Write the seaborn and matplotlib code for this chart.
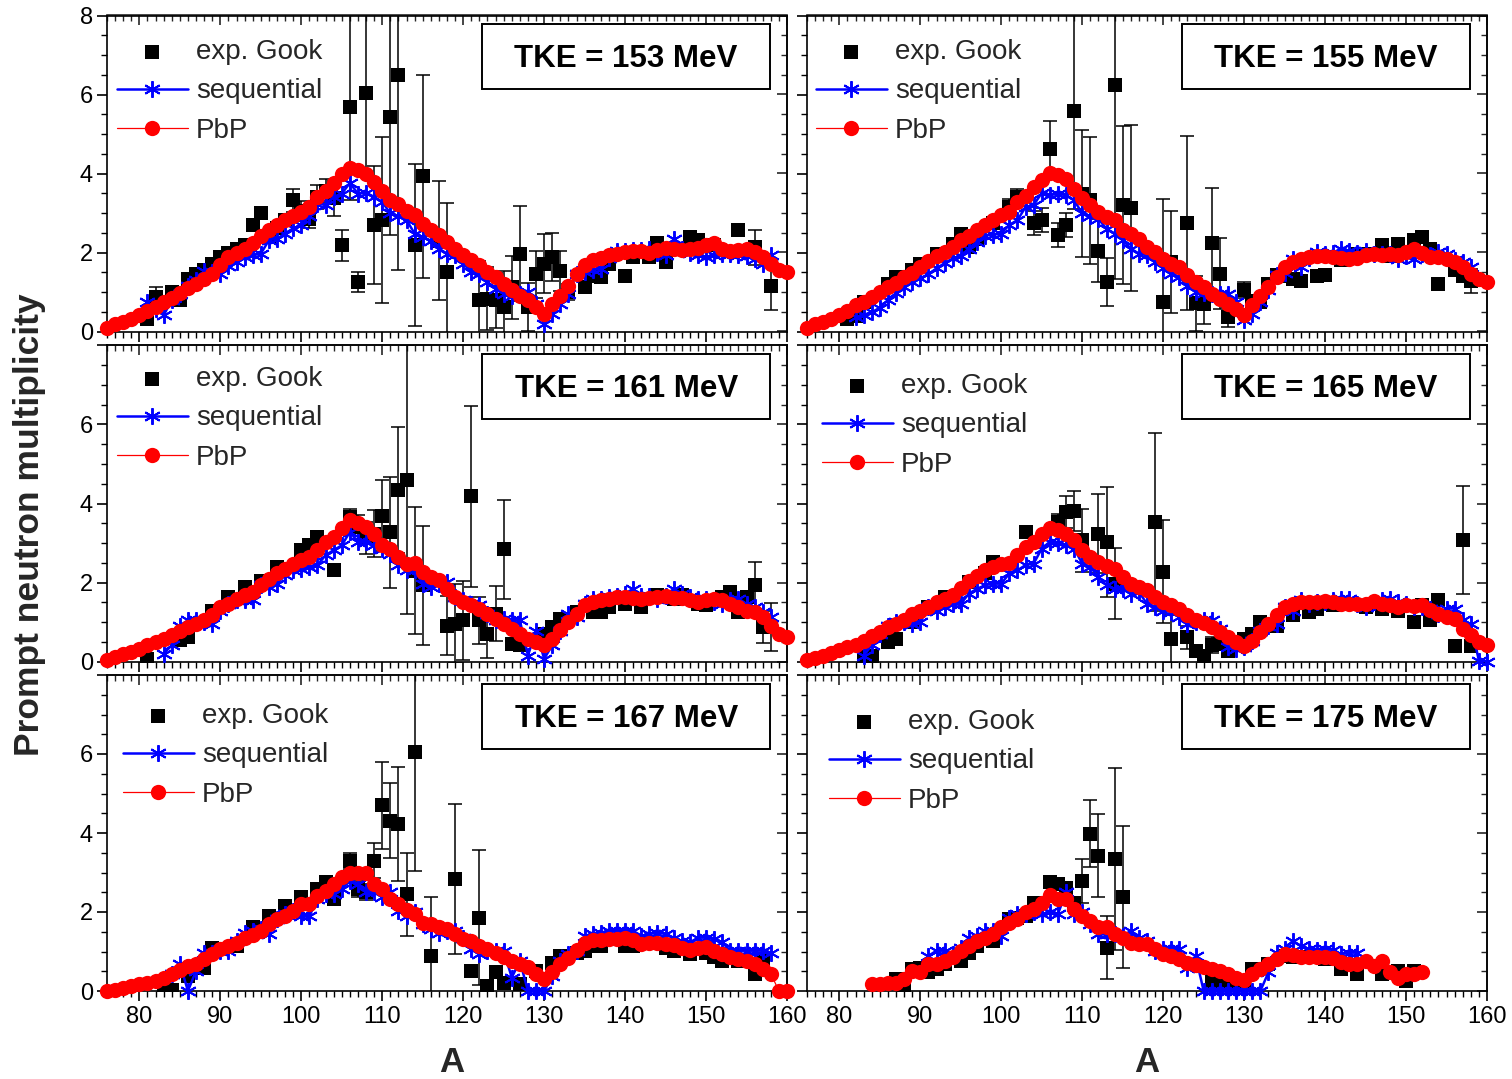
import matplotlib
matplotlib.use("Agg")
import matplotlib.pyplot as plt
import seaborn as sns
from matplotlib.patches import Rectangle
from matplotlib.ticker import MultipleLocator, NullFormatter, FuncFormatter

# ---------------- data: prompt neutron multiplicity vs fragment mass A ----------------
A_FULL = list(range(76, 161))

# TKE = 153 MeV
pbp_153_a = A_FULL
pbp_153_y = [0.09, 0.18, 0.25, 0.32, 0.41, 0.52, 0.62, 0.74, 0.85, 0.97,
             1.10, 1.21, 1.34, 1.46, 1.69, 1.89, 2.00, 2.10, 2.24, 2.41,
             2.56, 2.69, 2.82, 2.92, 3.03, 3.14, 3.41, 3.56, 3.76, 3.98,
             4.13, 4.09, 4.00, 3.79, 3.56, 3.34, 3.24, 3.05, 2.94, 2.72,
             2.58, 2.44, 2.27, 2.10, 1.93, 1.80, 1.68, 1.51, 1.38, 1.21,
             1.06, 0.91, 0.79, 0.62, 0.45, 0.69, 0.91, 1.15, 1.45, 1.68,
             1.80, 1.87, 1.93, 1.97, 2.01, 2.04, 2.04, 1.99, 2.06, 2.12,
             2.10, 2.06, 2.10, 2.12, 2.18, 2.24, 2.10, 2.04, 2.06, 2.10,
             2.01, 1.89, 1.72, 1.55, 1.51]
seq_153_a = list(range(81, 159))
seq_153_y = [0.74, 0.58, 0.41, 0.80, 0.96, 1.15, 1.30, 1.53, 1.50, 1.45,
             1.65, 1.76, 1.89, 1.93, 1.97, 2.31, 2.35, 2.48, 2.61, 2.69,
             2.92, 3.24, 3.20, 3.41, 3.49, 3.76, 3.49, 3.51, 3.41, 3.28,
             2.99, 2.92, 2.82, 2.48, 2.39, 2.30, 2.10, 1.97, 1.93, 1.72,
             1.51, 1.45, 1.25, 1.08, 0.96, 0.91, 0.95, 1.00, 0.69, 0.19,
             0.45, 0.70, 0.96, 1.46, 1.51, 1.55, 1.59, 1.85, 2.04, 2.04,
             2.06, 2.06, 2.10, 2.00, 1.93, 2.35, 2.10, 1.98, 1.93, 1.89,
             1.93, 1.95, 1.97, 1.93, 1.90, 1.84, 1.72, 1.93]
exp_153_a = [81, 82, 84, 85, 86, 87, 88, 89, 90, 91, 92, 93, 94, 95, 96, 97, 98, 99, 100, 101,
             102, 103, 104, 105, 106, 107, 108, 109, 110, 111, 112, 114, 115, 117, 118, 122, 123,
             124, 125, 126, 127, 128, 129, 130, 131, 132, 133, 135, 136, 137, 138, 140, 141, 143,
             144, 145, 148, 149, 151, 154, 156, 158]
exp_153_y = [0.32, 0.87, 1.00, 0.80, 1.34, 1.45, 1.55, 1.70, 1.89, 2.00, 2.10, 2.18, 2.69, 2.99,
             2.40, 2.62, 2.82, 3.32, 3.05, 2.86, 3.41, 3.55, 3.37, 2.18, 5.69, 1.25, 6.03, 2.69,
             2.82, 5.44, 6.50, 2.18, 3.93, 2.30, 1.51, 0.79, 0.83, 0.79, 0.62, 1.12, 1.97, 0.62,
             1.45, 1.72, 1.89, 1.53, 1.00, 1.12, 1.40, 1.38, 1.72, 1.40, 1.89, 1.89, 2.23, 1.76,
             2.39, 2.31, 2.18, 2.58, 2.13, 1.14]
exp_153_err = [0.08, 0.25, 0.10, 0.10, 0.12, 0.10, 0.10, 0.10, 0.10, 0.10, 0.12, 0.12, 0.15, 0.15,
               0.15, 0.15, 0.15, 0.30, 0.25, 0.25, 0.30, 0.30, 0.45, 0.40, 2.35, 0.25, 2.00, 1.50,
               2.10, 3.00, 4.95, 2.05, 2.57, 1.50, 1.75, 1.00, 0.80, 0.70, 0.90, 0.80, 1.20, 0.60,
               0.60, 0.75, 0.60, 0.50, 0.20, 0.10, 0.10, 0.10, 0.10, 0.10, 0.10, 0.10, 0.12, 0.10,
               0.10, 0.10, 0.10, 0.12, 0.45, 0.60]

# TKE = 155 MeV
pbp_155_a = A_FULL
pbp_155_y = [0.09, 0.18, 0.24, 0.32, 0.42, 0.53, 0.66, 0.74, 0.87, 0.99,
             1.12, 1.23, 1.38, 1.48, 1.63, 1.78, 1.90, 2.01, 2.14, 2.32,
             2.43, 2.56, 2.69, 2.83, 2.94, 3.03, 3.28, 3.43, 3.65, 3.83,
             4.02, 3.96, 3.85, 3.60, 3.37, 3.20, 3.03, 2.90, 2.82, 2.58,
             2.46, 2.35, 2.14, 2.01, 1.84, 1.72, 1.63, 1.42, 1.25, 1.12,
             0.96, 0.83, 0.70, 0.57, 0.43, 0.66, 0.89, 1.12, 1.38, 1.63,
             1.76, 1.84, 1.88, 1.90, 1.90, 1.88, 1.87, 1.84, 1.87, 1.93,
             1.95, 1.93, 1.97, 1.93, 2.01, 2.10, 1.99, 1.88, 1.88, 1.84,
             1.76, 1.63, 1.46, 1.34, 1.25]
seq_155_a = list(range(82, 159))
seq_155_y = [0.36, 0.42, 0.49, 0.60, 0.80, 0.97, 1.12, 1.25, 1.35, 1.45,
             1.60, 1.73, 1.85, 1.92, 2.10, 2.27, 2.43, 2.45, 2.48, 2.70,
             2.82, 3.15, 3.20, 3.51, 3.45, 3.49, 3.45, 3.32, 2.99, 2.92,
             2.85, 2.60, 2.48, 2.31, 2.10, 1.97, 1.93, 1.76, 1.60, 1.46,
             1.38, 1.15, 1.00, 0.97, 0.96, 0.96, 0.96, 0.74, 0.28, 0.45,
             0.75, 1.04, 1.44, 1.48, 1.84, 1.63, 1.85, 2.01, 1.95, 2.00,
             2.10, 2.04, 2.00, 2.04, 1.97, 1.95, 1.97, 1.84, 1.90, 1.84,
             1.97, 1.93, 2.01, 1.97, 1.80, 1.76, 1.63]
exp_155_a = [81, 82, 83, 86, 87, 89, 90, 92, 94, 95, 96, 97, 99, 101, 102, 104, 105, 106, 107, 108,
             109, 110, 111, 112, 113, 114, 115, 116, 120, 121, 123, 124, 125, 126, 127, 128, 130,
             131, 132, 133, 134, 135, 136, 137, 139, 140, 142, 144, 145, 147, 148, 149, 151, 152,
             153, 154, 156, 157, 158]
exp_155_y = [0.32, 0.40, 0.74, 1.20, 1.37, 1.55, 1.71, 1.97, 2.22, 2.48, 2.14, 2.35, 2.75, 3.16,
             3.41, 2.74, 2.82, 4.63, 2.44, 2.69, 5.59, 3.49, 3.32, 2.05, 1.25, 6.24, 3.20, 3.12,
             0.75, 1.76, 2.74, 0.71, 0.69, 2.24, 1.46, 0.37, 1.06, 0.77, 0.74, 1.20, 1.44, 1.40,
             1.32, 1.28, 1.40, 1.44, 1.80, 1.97, 1.97, 2.18, 1.90, 2.22, 2.31, 2.39, 2.10, 1.20,
             1.55, 1.40, 1.28]
exp_155_err = [0.08, 0.08, 0.10, 0.10, 0.10, 0.10, 0.10, 0.10, 0.10, 0.12, 0.12, 0.12, 0.15, 0.20,
               0.20, 0.30, 0.30, 0.70, 0.30, 0.30, 2.50, 1.60, 1.60, 0.80, 0.60, 4.90, 2.00, 2.10,
               2.60, 1.30, 2.20, 0.70, 0.50, 1.40, 0.90, 0.25, 0.20, 0.12, 0.12, 0.10, 0.10, 0.10,
               0.10, 0.10, 0.10, 0.10, 0.10, 0.10, 0.10, 0.10, 0.10, 0.10, 0.10, 0.15, 0.10, 0.10,
               0.10, 0.10, 0.30]

# TKE = 161 MeV
pbp_161_a = A_FULL
pbp_161_y = [0.04, 0.11, 0.18, 0.24, 0.32, 0.41, 0.49, 0.58, 0.66, 0.77,
             0.87, 0.95, 1.06, 1.17, 1.38, 1.46, 1.59, 1.68, 1.76, 1.93,
             2.10, 2.23, 2.35, 2.48, 2.56, 2.65, 2.82, 3.03, 3.16, 3.37,
             3.58, 3.51, 3.41, 3.24, 2.94, 2.84, 2.65, 2.48, 2.49, 2.27,
             2.14, 2.06, 1.84, 1.63, 1.50, 1.42, 1.34, 1.19, 1.08, 0.96,
             0.82, 0.70, 0.57, 0.49, 0.41, 0.57, 0.79, 1.00, 1.21, 1.42,
             1.50, 1.55, 1.59, 1.63, 1.63, 1.62, 1.59, 1.62, 1.63, 1.65,
             1.62, 1.62, 1.56, 1.50, 1.55, 1.59, 1.55, 1.46, 1.38, 1.29,
             1.25, 1.12, 0.91, 0.70, 0.63]
seq_161_a = list(range(83, 159))
seq_161_y = [0.20, 0.41, 0.91, 1.04, 1.04, 1.00, 0.95, 1.29, 1.46, 1.55,
             1.55, 1.55, 1.93, 1.89, 1.97, 2.18, 2.31, 2.35, 2.39, 2.44,
             2.69, 2.82, 2.94, 3.28, 3.03, 3.03, 2.94, 2.86, 2.73, 2.44,
             2.31, 2.31, 1.97, 1.89, 1.97, 2.01, 1.63, 1.55, 1.46, 1.42,
             1.21, 1.04, 1.08, 1.04, 1.04, 0.15, 0.78, 0.07, 0.41, 0.78,
             1.21, 1.12, 1.46, 1.59, 1.59, 1.63, 1.67, 1.72, 1.84, 1.65,
             1.65, 1.59, 1.67, 1.84, 1.72, 1.63, 1.59, 1.59, 1.50, 1.46,
             1.55, 1.59, 1.46, 1.38, 1.25, 1.12]
exp_161_a = [81, 85, 86, 89, 91, 93, 95, 97, 100, 101, 102, 104, 106, 107, 108, 109, 110, 111, 112,
             113, 114, 115, 118, 119, 120, 121, 122, 123, 124, 125, 126, 127, 130, 131, 132, 134,
             136, 137, 138, 140, 142, 144, 146, 147, 149, 150, 152, 153, 154, 155, 156, 157, 158]
exp_161_y = [0.07, 0.55, 0.62, 1.29, 1.63, 1.88, 2.05, 2.39, 2.82, 2.95, 3.16, 2.31, 3.67, 3.41,
             3.12, 3.24, 3.69, 3.27, 4.34, 4.60, 2.30, 1.93, 0.91, 0.96, 1.04, 4.18, 1.04, 0.70,
             1.21, 2.84, 0.45, 0.41, 0.70, 0.88, 1.08, 1.25, 1.25, 1.25, 1.38, 1.46, 1.38, 1.68,
             1.59, 1.68, 1.46, 1.42, 1.63, 1.76, 1.25, 1.63, 1.93, 0.87, 0.87]
exp_161_err = [0.05, 0.08, 0.08, 0.08, 0.08, 0.10, 0.10, 0.10, 0.12, 0.12, 0.15, 0.08, 0.20, 0.30,
               0.40, 0.60, 0.90, 1.40, 1.60, 3.40, 1.60, 1.50, 0.75, 1.00, 1.00, 2.30, 0.60, 0.60,
               0.70, 1.25, 0.10, 0.10, 0.10, 0.10, 0.10, 0.10, 0.10, 0.10, 0.10, 0.10, 0.10, 0.10,
               0.10, 0.10, 0.10, 0.10, 0.10, 0.10, 0.10, 0.10, 0.60, 0.40, 0.60]

# TKE = 165 MeV
pbp_165_a = A_FULL
pbp_165_y = [0.04, 0.09, 0.15, 0.21, 0.28, 0.36, 0.43, 0.53, 0.64, 0.74,
             0.87, 0.95, 1.06, 1.19, 1.29, 1.38, 1.50, 1.59, 1.68, 1.87,
             2.04, 2.16, 2.31, 2.39, 2.46, 2.49, 2.69, 2.90, 3.03, 3.24,
             3.37, 3.32, 3.24, 3.07, 2.82, 2.65, 2.52, 2.41, 2.33, 2.14,
             1.97, 1.89, 1.82, 1.63, 1.50, 1.42, 1.34, 1.17, 1.04, 0.97,
             0.87, 0.74, 0.61, 0.49, 0.38, 0.53, 0.74, 0.95, 1.17, 1.38,
             1.46, 1.50, 1.50, 1.50, 1.53, 1.50, 1.46, 1.46, 1.45, 1.46,
             1.53, 1.46, 1.42, 1.38, 1.42, 1.40, 1.42, 1.31, 1.21, 1.12,
             1.08, 0.83, 0.66, 0.49, 0.43]
seq_165_a = list(range(83, 161))
seq_165_y = [0.15, 0.41, 0.70, 0.91, 1.00, 1.00, 0.95, 1.00, 1.38, 1.29,
             1.38, 1.46, 1.46, 1.72, 1.84, 1.93, 1.97, 1.97, 2.23, 2.31,
             2.44, 2.48, 2.86, 3.03, 2.99, 2.94, 2.86, 2.48, 2.39, 2.14,
             1.93, 1.84, 1.84, 1.72, 1.76, 1.46, 1.38, 1.29, 1.25, 1.12,
             0.95, 1.00, 1.04, 1.04, 0.83, 0.36, 0.32, 0.36, 0.53, 0.78,
             0.91, 0.95, 1.38, 1.29, 1.55, 1.46, 1.50, 1.50, 1.55, 1.59,
             1.59, 1.46, 1.38, 1.50, 1.55, 1.59, 1.50, 1.46, 1.38, 1.38,
             1.34, 1.21, 1.34, 1.34, 1.04, 0.95, 0.02, 0.00]
exp_165_a = [83, 84, 86, 87, 89, 91, 93, 96, 98, 99, 103, 107, 108, 109, 110, 112, 113, 114, 119,
             120, 121, 123, 124, 125, 126, 127, 128, 130, 131, 132, 134, 136, 138, 139, 141, 145,
             147, 149, 151, 152, 153, 154, 156, 157, 158]
exp_165_y = [0.11, 0.15, 0.49, 0.57, 0.99, 1.38, 1.63, 2.01, 2.23, 2.52, 3.28, 3.54, 3.79, 3.81,
             3.07, 3.24, 3.03, 1.97, 3.54, 2.27, 0.57, 0.61, 0.27, 0.15, 0.41, 0.45, 0.27, 0.57,
             0.70, 1.00, 0.91, 1.17, 1.25, 1.34, 1.42, 1.38, 1.34, 1.29, 1.00, 1.42, 1.06, 1.55,
             0.40, 3.08, 0.40]
exp_165_err = [0.05, 0.05, 0.08, 0.08, 0.08, 0.08, 0.08, 0.10, 0.10, 0.10, 0.10, 0.20, 0.40, 0.50,
               0.80, 1.00, 1.40, 0.90, 2.25, 1.30, 0.60, 0.30, 0.10, 0.10, 0.20, 0.10, 0.10, 0.10,
               0.10, 0.10, 0.10, 0.10, 0.10, 0.10, 0.10, 0.10, 0.10, 0.10, 0.10, 0.10, 0.10, 0.12,
               0.10, 1.37, 0.10]

# TKE = 167 MeV
pbp_167_a = A_FULL
pbp_167_y = [0.01, 0.02, 0.07, 0.13, 0.17, 0.21, 0.25, 0.34, 0.42, 0.52,
             0.63, 0.68, 0.80, 0.93, 1.06, 1.14, 1.22, 1.35, 1.42, 1.52,
             1.69, 1.82, 1.90, 2.03, 2.20, 2.20, 2.41, 2.54, 2.71, 2.89,
             3.00, 2.98, 3.00, 2.71, 2.58, 2.33, 2.20, 2.05, 1.95, 1.71,
             1.70, 1.62, 1.57, 1.44, 1.31, 1.27, 1.14, 1.06, 0.97, 0.85,
             0.76, 0.68, 0.61, 0.42, 0.30, 0.47, 0.69, 0.83, 1.03, 1.22,
             1.28, 1.28, 1.31, 1.31, 1.34, 1.28, 1.20, 1.22, 1.22, 1.20,
             1.17, 1.10, 1.03, 1.10, 1.11, 1.02, 0.93, 0.86, 0.80, 0.76,
             0.69, 0.55, 0.44, 0.00, 0.00]
seq_167_a = list(range(84, 159))
seq_167_y = [0.42, 0.69, 0.00, 0.51, 0.97, 0.97, 1.02, 1.02, 1.27, 1.48,
             1.52, 1.56, 1.44, 1.82, 1.95, 2.03, 1.90, 1.90, 2.33, 2.45,
             2.45, 2.58, 2.79, 2.71, 2.50, 2.50, 2.39, 2.50, 2.03, 1.90,
             1.99, 1.69, 1.56, 1.48, 1.52, 1.52, 1.35, 1.06, 0.93, 1.02,
             1.02, 1.02, 0.34, 0.76, 0.00, 0.00, 0.00, 0.38, 0.76, 0.93,
             1.02, 1.40, 1.44, 1.48, 1.52, 1.52, 1.52, 1.52, 1.40, 1.44,
             1.48, 1.44, 1.35, 1.27, 1.23, 1.35, 1.35, 1.31, 1.23, 1.02,
             1.02, 1.02, 1.02, 1.02, 0.97]
exp_167_a = [83, 84, 86, 88, 89, 92, 94, 96, 98, 100, 102, 103, 104, 106, 107, 108, 109, 110, 111,
             112, 113, 114, 116, 119, 121, 122, 123, 124, 125, 127, 129, 131, 132, 134, 135, 136,
             137, 140, 141, 143, 145, 146, 148, 150, 151, 152, 154, 156, 157]
exp_167_y = [0.02, 0.02, 0.38, 0.59, 1.10, 1.14, 1.61, 1.90, 2.16, 2.37, 2.58, 2.75, 2.33, 3.30,
             2.58, 2.50, 3.30, 4.70, 4.31, 4.23, 2.45, 6.05, 0.89, 2.83, 0.51, 1.86, 0.13, 0.47,
             0.21, 0.17, 0.51, 0.72, 0.89, 0.97, 1.02, 1.14, 1.14, 1.14, 1.14, 1.22, 1.10, 1.02,
             0.93, 0.97, 0.85, 0.76, 0.76, 0.42, 0.76]
exp_167_err = [0.05, 0.05, 0.08, 0.08, 0.08, 0.08, 0.08, 0.10, 0.10, 0.10, 0.10, 0.10, 0.10, 0.20,
               0.20, 0.20, 0.45, 1.10, 0.95, 1.45, 1.05, 3.00, 1.50, 1.90, 0.10, 1.70, 0.10, 0.10,
               0.10, 0.10, 0.10, 0.10, 0.10, 0.10, 0.10, 0.10, 0.10, 0.10, 0.10, 0.10, 0.10, 0.10,
               0.10, 0.10, 0.10, 0.10, 0.10, 0.10, 0.20]

# TKE = 175 MeV
pbp_175_a = list(range(84, 153))
pbp_175_y = [0.17, 0.17, 0.21, 0.21, 0.30, 0.51, 0.47, 0.68, 0.68, 0.76,
             0.85, 1.02, 1.14, 1.27, 1.35, 1.44, 1.61, 1.73, 1.82, 1.99,
             2.07, 2.24, 2.44, 2.34, 2.33, 2.07, 1.90, 1.78, 1.61, 1.62,
             1.44, 1.35, 1.22, 1.18, 1.18, 1.06, 0.93, 0.89, 0.80, 0.72,
             0.66, 0.61, 0.55, 0.51, 0.42, 0.34, 0.27, 0.42, 0.55, 0.68,
             0.80, 0.93, 0.91, 0.86, 0.85, 0.85, 0.85, 0.83, 0.74, 0.68,
             0.68, 0.76, 0.63, 0.76, 0.47, 0.34, 0.42, 0.42, 0.47]
seq_175_a = list(range(91, 145))
seq_175_y = [0.89, 1.02, 1.02, 0.93, 1.10, 1.35, 1.40, 1.52, 1.52, 1.40,
             1.86, 1.95, 1.95, 1.99, 1.95, 1.99, 1.95, 2.50, 1.95, 1.99,
             1.69, 1.44, 1.44, 1.44, 1.40, 1.52, 1.35, 1.27, 1.02, 1.06,
             1.06, 1.06, 0.59, 0.89, 0.00, 0.00, 0.00, 0.00, 0.00, 0.00,
             0.00, 0.00, 0.47, 0.97, 1.06, 1.27, 1.14, 1.06, 1.04, 1.06,
             1.04, 0.93, 0.97, 0.97]
exp_175_a = [87, 88, 89, 90, 91, 92, 93, 95, 96, 97, 99, 101, 102, 103, 104, 106, 107, 108, 109,
             110, 111, 112, 113, 114, 115, 126, 127, 128, 130, 131, 133, 135, 136, 138, 140, 142,
             144, 147, 149, 150, 151]
exp_175_y = [0.30, 0.08, 0.55, 0.59, 0.47, 0.55, 0.68, 0.76, 0.95, 1.14, 1.27, 1.82, 1.86, 1.90,
             2.24, 2.75, 2.71, 2.62, 2.24, 2.79, 3.98, 3.43, 1.10, 3.35, 2.37, 0.25, 0.13, 0.17,
             0.25, 0.55, 0.68, 0.89, 0.85, 0.85, 0.80, 0.55, 0.42, 0.42, 0.51, 0.25, 0.51]
exp_175_err = [0.05, 0.05, 0.08, 0.08, 0.08, 0.08, 0.08, 0.08, 0.08, 0.08, 0.08, 0.08, 0.08, 0.08,
               0.08, 0.10, 0.15, 0.15, 0.12, 0.55, 0.85, 1.05, 0.80, 2.30, 1.80, 0.08, 0.08, 0.08,
               0.08, 0.08, 0.08, 0.08, 0.08, 0.08, 0.08, 0.08, 0.08, 0.08, 0.08, 0.08, 0.15]

tke_labels = ["TKE = 153 MeV", "TKE = 155 MeV", "TKE = 161 MeV",
              "TKE = 165 MeV", "TKE = 167 MeV", "TKE = 175 MeV"]
legend_labels = ["exp. Gook", "sequential", "PbP"]

panels = [
    (exp_153_a, exp_153_y, exp_153_err, seq_153_a, seq_153_y, pbp_153_a, pbp_153_y),
    (exp_155_a, exp_155_y, exp_155_err, seq_155_a, seq_155_y, pbp_155_a, pbp_155_y),
    (exp_161_a, exp_161_y, exp_161_err, seq_161_a, seq_161_y, pbp_161_a, pbp_161_y),
    (exp_165_a, exp_165_y, exp_165_err, seq_165_a, seq_165_y, pbp_165_a, pbp_165_y),
    (exp_167_a, exp_167_y, exp_167_err, seq_167_a, seq_167_y, pbp_167_a, pbp_167_y),
    (exp_175_a, exp_175_y, exp_175_err, seq_175_a, seq_175_y, pbp_175_a, pbp_175_y),
]

# ---------------- style ----------------
sns.set_theme(style="ticks")
plt.rcParams['font.family'] = ['Liberation Sans', 'DejaVu Sans']
plt.rcParams['axes.linewidth'] = 1.2

W, H = 1512, 1079
fig = plt.figure(figsize=(W / 100, H / 100), dpi=100)

col_left = [107, 807]
row_top = [15.5, 345.5, 675.0]
ax_w, ax_h = 680, 316

# legend anchor (handle-left x, first-row centre y) in pixels, per panel
legend_px = [(117, 52), (816, 52), (117, 379), (822, 386), (123, 716), (829, 722)]

for i, (ea, ey, ee, sa, sy, pa, py) in enumerate(panels):
    r, c = divmod(i, 2)
    left, top = col_left[c], row_top[r]
    ax = fig.add_axes([left / W, 1 - (top + ax_h) / H, ax_w / W, ax_h / H])

    ax.errorbar(ea, ey, yerr=ee, fmt='none', ecolor='black', elinewidth=1.1,
                capsize=4.7, capthick=1.1, zorder=2)
    sns.scatterplot(x=ea, y=ey, ax=ax, marker='s', s=108, color='black',
                    edgecolor='black', linewidth=0, zorder=3, legend=False)
    h_exp = ax.collections[-1]
    sns.lineplot(x=sa, y=sy, ax=ax, color='blue', linewidth=1.8, marker=(6, 2, 0),
                 markersize=12, markeredgecolor='blue', markeredgewidth=1.4,
                 estimator=None, sort=False, legend=False, zorder=4, clip_on=False)
    h_seq = ax.lines[-1]
    sns.lineplot(x=pa, y=py, ax=ax, color='red', linewidth=0.9, marker='o',
                 markersize=11, markerfacecolor='red', markeredgecolor='red',
                 markeredgewidth=0, estimator=None, sort=False, legend=False,
                 zorder=5, clip_on=False)
    h_pbp = ax.lines[-1]

    ax.set_xlim(76, 160)
    ax.set_ylim(0, 8)
    ax.set_xlabel("")
    ax.set_ylabel("")
    ax.xaxis.set_major_locator(MultipleLocator(10))
    ax.xaxis.set_minor_locator(MultipleLocator(1))
    ax.yaxis.set_major_locator(MultipleLocator(2))
    ax.yaxis.set_minor_locator(MultipleLocator(0.5))
    ax.tick_params(which='both', direction='out', top=False, right=False,
                   labelsize=17, colors='black')
    ax.tick_params(which='major', length=7, width=1.2)
    ax.tick_params(which='minor', length=4, width=1.0)
    ax.tick_params(axis='x', pad=4)
    ax.tick_params(axis='y', pad=3)
    ax.tick_params(labelbottom=(r == 2), labelleft=(c == 0))
    if r > 0:
        ax.yaxis.set_major_formatter(FuncFormatter(lambda v, p: "" if v > 7 else f"{v:g}"))
    for sp in ax.spines.values():
        sp.set_linewidth(1.2)
        sp.set_color('black')

    topx = ax.secondary_xaxis('top')
    topx.xaxis.set_major_locator(MultipleLocator(10))
    topx.xaxis.set_minor_locator(MultipleLocator(1))
    topx.xaxis.set_major_formatter(NullFormatter())
    topx.tick_params(which='both', direction='in')
    topx.tick_params(which='major', length=7, width=1.2)
    topx.tick_params(which='minor', length=4, width=1.0)
    rightx = ax.secondary_yaxis('right')
    rightx.yaxis.set_major_locator(MultipleLocator(2))
    rightx.yaxis.set_minor_locator(MultipleLocator(0.5))
    rightx.yaxis.set_major_formatter(NullFormatter())
    rightx.tick_params(which='both', direction='in')
    rightx.tick_params(which='major', length=7, width=1.2)
    rightx.tick_params(which='minor', length=4, width=1.0)
    for sec in (topx, rightx):
        for sp in sec.spines.values():
            sp.set_linewidth(1.2)

    # TKE box
    ax.add_patch(Rectangle((0.552, 0.767), 0.423, 0.205, transform=ax.transAxes,
                           fill=False, edgecolor='black', linewidth=1.4, zorder=6))
    ax.text(0.7635, 0.862, tke_labels[i], transform=ax.transAxes, ha='center',
            va='center', fontsize=22.5, fontweight='bold', color='black', zorder=7)

    lx, ly = legend_px[i]
    ax_bottom_px = top + ax_h
    ax.legend([h_exp, h_seq, h_pbp], legend_labels, loc='upper left',
              bbox_to_anchor=((lx - left) / ax_w, (ax_bottom_px - (ly - 13)) / ax_h),
              frameon=False, fontsize=20, borderpad=0, borderaxespad=0,
              handlelength=2.55, handletextpad=0.30, labelspacing=0.48,
              numpoints=1, scatterpoints=1)

fig.text(30 / W, 1 - 525 / H, "Prompt neutron multiplicity", rotation=90,
         ha='center', va='center', fontsize=25.5, fontweight='bold')
fig.text(452 / W, 1 - 1062 / H, "A", ha='center', va='center', fontsize=25, fontweight='bold')
fig.text(1147 / W, 1 - 1062 / H, "A", ha='center', va='center', fontsize=25, fontweight='bold')

fig.savefig("out.png", dpi=100)
